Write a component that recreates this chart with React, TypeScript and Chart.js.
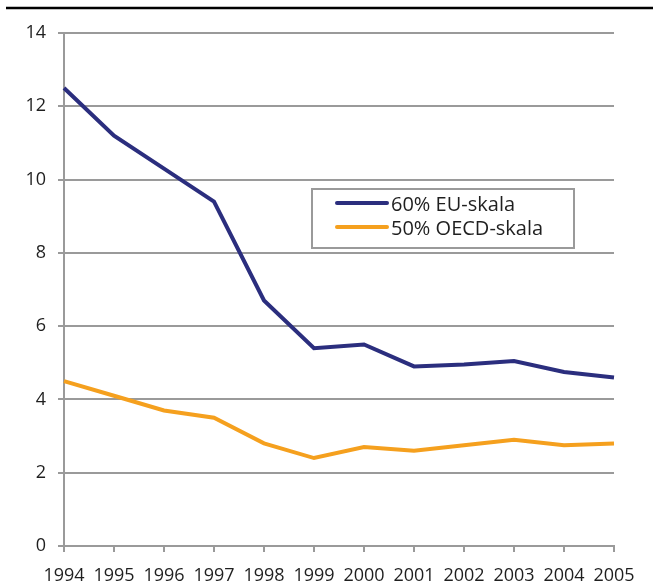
import React, { useEffect, useRef } from "react";
import { Chart, registerables } from "chart.js";

Chart.register(...registerables);

const years = ["1994", "1995", "1996", "1997", "1998", "1999", "2000", "2001", "2002", "2003", "2004", "2005"];
const euScale60 = [12.5, 11.2, 10.3, 9.4, 6.7, 5.4, 5.5, 4.9, 4.95, 5.05, 4.75, 4.6];
const oecdScale50 = [4.5, 4.1, 3.7, 3.5, 2.8, 2.4, 2.7, 2.6, 2.75, 2.9, 2.75, 2.8];
const seriesLabels = ["60% EU-skala", "50% OECD-skala"];
const seriesColors = ["#2B2E7E", "#F5A01E"];

const FONT = "'Open Sans', 'Noto Sans', sans-serif";
const GRID = "#9a9a9a";
const TEXT = "#1f1f1f";

const decorPlugin = {
  id: "decor",
  afterDraw(chart: any) {
    const ctx = chart.ctx;
    ctx.save();
    // top rule
    ctx.strokeStyle = "#000";
    ctx.lineWidth = 2.5;
    ctx.beginPath();
    ctx.moveTo(6, 8);
    ctx.lineTo(chart.width, 8);
    ctx.stroke();
    // legend box
    const bx = 312, by = 189, bw = 262, bh = 59;
    ctx.fillStyle = "#fff";
    ctx.fillRect(bx, by, bw, bh);
    ctx.strokeStyle = GRID;
    ctx.lineWidth = 2;
    ctx.strokeRect(bx, by, bw, bh);
    ctx.font = "20px " + FONT;
    ctx.textBaseline = "middle";
    ctx.textAlign = "left";
    chart.data.datasets.forEach((ds: any, i: number) => {
      const y = by + 14 + i * 24;
      ctx.strokeStyle = ds.borderColor;
      ctx.lineWidth = 4;
      ctx.lineCap = "round";
      ctx.beginPath();
      ctx.moveTo(337, y);
      ctx.lineTo(387, y);
      ctx.stroke();
      ctx.fillStyle = TEXT;
      ctx.fillText(ds.label, 391, y + 2);
    });
    ctx.restore();
  },
};

export default function App() {
  const ref = useRef<HTMLCanvasElement | null>(null);
  useEffect(() => {
    if (!ref.current) return;
    const chart = new Chart(ref.current, {
      type: "line",
      data: {
        labels: years,
        datasets: [
          {
            label: seriesLabels[0],
            data: euScale60,
            borderColor: seriesColors[0],
            backgroundColor: seriesColors[0],
            borderWidth: 4,
            pointRadius: 0,
            tension: 0,
          },
          {
            label: seriesLabels[1],
            data: oecdScale50,
            borderColor: seriesColors[1],
            backgroundColor: seriesColors[1],
            borderWidth: 4,
            pointRadius: 0,
            tension: 0,
          },
        ],
      },
      plugins: [decorPlugin],
      options: {
        animation: false,
        responsive: false,
        maintainAspectRatio: false,
        layout: { padding: { top: 33, right: 39, left: 0, bottom: 0 } },
        plugins: { legend: { display: false }, tooltip: { enabled: false } },
        scales: {
          x: {
            offset: false,
            afterFit: (s: any) => { s.height = 39; },
            grid: { drawOnChartArea: false, drawTicks: true, tickLength: 6, color: GRID, lineWidth: 2 },
            border: { color: GRID, width: 2 },
            ticks: { font: { family: FONT, size: 18 }, color: TEXT, padding: 13, maxRotation: 0, autoSkip: false },
          },
          y: {
            min: 0,
            max: 14,
            afterFit: (s: any) => { s.width = 64; },
            grid: { drawOnChartArea: true, drawTicks: true, tickLength: 6, color: GRID, lineWidth: 2 },
            border: { color: GRID, width: 2 },
            ticks: { stepSize: 2, font: { family: FONT, size: 18 }, color: TEXT, padding: 12 },
          },
        },
      },
    });
    return () => chart.destroy();
  }, []);
  return (
    <div style={{ position: "absolute", left: 0, top: 0, width: 653, height: 585, background: "#fff" }}>
      <canvas ref={ref} width={653} height={585} style={{ width: 653, height: 585, display: "block" }} />
    </div>
  );
}
